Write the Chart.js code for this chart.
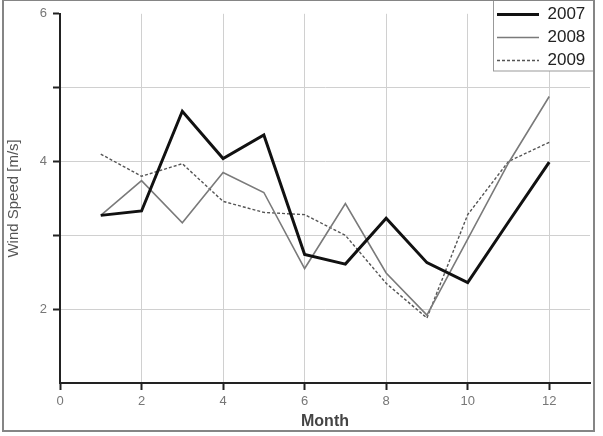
<!DOCTYPE html>
<html>
<head>
<meta charset="utf-8">
<script src="https://cdn.jsdelivr.net/npm/chart.js@4.4.0/dist/chart.umd.min.js"></script>
<style>
  html, body { margin: 0; padding: 0; background: #fff; }
  #wrap { position: relative; width: 603px; height: 436px; overflow: hidden; }
  #frame {
    position: absolute; left: 2px; top: -1px; width: 593px; height: 433px;
    box-sizing: border-box; border: 2px solid #858585; pointer-events: none;
  }
</style>
</head>
<body>
<div id="wrap">
  <canvas id="windChart" width="603" height="436"></canvas>
  <div id="frame"></div>
</div>
<script>
// --- adatok ---
const months = [1, 2, 3, 4, 5, 6, 7, 8, 9, 10, 11, 12];
const years = ['2007', '2008', '2009'];
const speed2007 = [3.27, 3.33, 4.68, 4.04, 4.36, 2.74, 2.61, 3.23, 2.63, 2.36, 3.18, 3.99];
const speed2008 = [3.27, 3.74, 3.17, 3.85, 3.58, 2.55, 3.43, 2.49, 1.92, 2.95, 3.98, 4.88];
const speed2009 = [4.10, 3.80, 3.97, 3.46, 3.31, 3.28, 3.00, 2.35, 1.88, 3.28, 4.00, 4.26];
const yLabelValues = [2, 4, 6];

const toPoints = arr => months.map((m, i) => ({ x: m, y: arr[i] }));

// legend box placed inside the plot, top right, with border + white background
const legendBoxPlugin = {
    id: 'legendBox',
    afterLayout(chart) {
        const lg = chart.legend;
        if (!lg) return;
        lg.left = 491;
        lg.right = 595;
        lg.top = 0;
        lg.bottom = 120;
        lg.width = lg.right - lg.left;
        lg.height = lg.bottom - lg.top;
    },
    afterDraw(chart) {
        const lg = chart.legend;
        const ctx = chart.ctx;
        ctx.save();
        ctx.fillStyle = '#fff';
        ctx.fillRect(493, 0, 101, 71);
        ctx.strokeStyle = '#999';
        ctx.lineWidth = 1;
        ctx.strokeRect(493.5, -1, 100, 72);
        ctx.restore();
        lg.draw();
    }
};

const ctx = document.getElementById('windChart').getContext('2d');
new Chart(ctx, {
    type: 'line',
    data: {
        datasets: [
            {
                label: years[0],
                data: toPoints(speed2007),
                borderColor: '#111',
                borderWidth: 3,
                pointRadius: 0,
                tension: 0
            },
            {
                label: years[1],
                data: toPoints(speed2008),
                borderColor: '#7a7a7a',
                borderWidth: 1.6,
                pointRadius: 0,
                tension: 0
            },
            {
                label: years[2],
                data: toPoints(speed2009),
                borderColor: '#555',
                borderWidth: 1.4,
                borderDash: [3, 2],
                pointRadius: 0,
                tension: 0
            }
        ]
    },
    options: {
        responsive: false,
        animation: false,
        layout: { padding: { left: 2, top: 13, right: 13, bottom: 4 } },
        scales: {
            x: {
                type: 'linear',
                min: 0,
                max: 13,
                afterFit: s => { s.height = 49; },
                border: { color: '#222', width: 2 },
                grid: {
                    color: c => (c.tick && c.tick.value === 0 ? 'rgba(0,0,0,0)' : '#d0d0d0'),
                    tickColor: '#222',
                    tickLength: 7,
                    tickWidth: 2,
                    lineWidth: 1
                },
                ticks: {
                    stepSize: 2,
                    includeBounds: false,
                    padding: 4,
                    color: '#777',
                    font: { family: 'Liberation Sans, Arial, sans-serif', size: 13 }
                },
                title: {
                    display: true,
                    text: 'Month',
                    color: '#444',
                    padding: { top: 0, bottom: 1 },
                    font: { family: 'Liberation Sans, Arial, sans-serif', size: 16, weight: 'bold' }
                }
            },
            y: {
                min: 1,
                max: 6,
                afterFit: s => { s.width = 58; },
                border: { color: '#222', width: 2 },
                grid: {
                    color: c => (c.tick && (c.tick.value === 6 || c.tick.value === 1) ? 'rgba(0,0,0,0)' : '#d0d0d0'),
                    tickColor: c => (c.tick && c.tick.value === 1 ? 'rgba(0,0,0,0)' : '#222'),
                    tickLength: 7,
                    tickWidth: 2,
                    lineWidth: 1
                },
                ticks: {
                    stepSize: 1,
                    padding: 6,
                    color: '#777',
                    font: { family: 'Liberation Sans, Arial, sans-serif', size: 13 },
                    callback: v => (yLabelValues.includes(v) ? v : '')
                },
                title: {
                    display: true,
                    text: 'Wind Speed [m/s]',
                    color: '#555',
                    padding: { top: 3, bottom: 0 },
                    font: { family: 'Liberation Sans, Arial, sans-serif', size: 15 }
                }
            }
        },
        plugins: {
            legend: {
                position: 'chartArea',
                align: 'start',
                labels: {
                    usePointStyle: true,
                    pointStyle: 'line',
                    pointStyleWidth: 42,
                    padding: 6,
                    color: '#222',
                    font: { family: 'Liberation Sans, Arial, sans-serif', size: 17 },
                    generateLabels: chart => {
                        const items = Chart.defaults.plugins.legend.labels.generateLabels(chart);
                        items.forEach(it => {
                            const ds = chart.data.datasets[it.datasetIndex];
                            it.lineDash = ds.borderDash || [];
                            it.lineWidth = ds.borderWidth;
                            it.strokeStyle = ds.borderColor;
                        });
                        return items;
                    }
                }
            },
            tooltip: { enabled: false }
        }
    },
    plugins: [legendBoxPlugin]
});
</script>
</body>
</html>
